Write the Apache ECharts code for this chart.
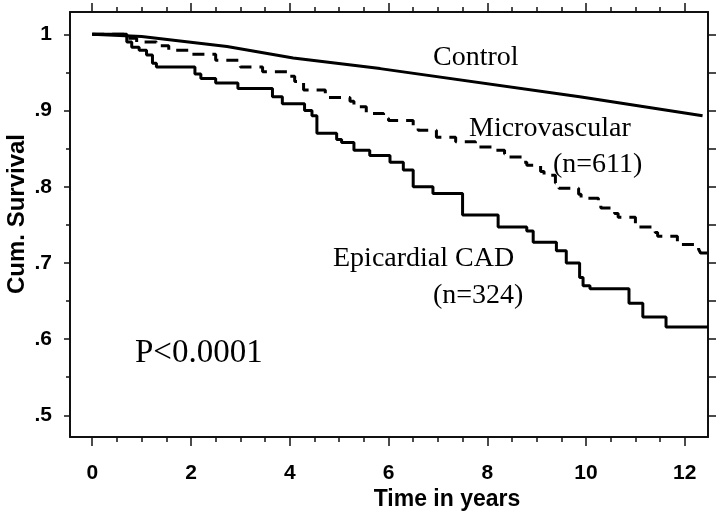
<!DOCTYPE html>
<html>
<head>
<meta charset="utf-8">
<script src="https://cdn.jsdelivr.net/npm/echarts@6/dist/echarts.min.js"></script>
<style>
html,body{margin:0;padding:0;background:#fff;}
#chart{width:722px;height:522px;}
</style>
</head>
<body>
<div id="chart"></div>
<script>
// ---- data ----
const xMajorTicks = [0, 2, 4, 6, 8, 10, 12];
const xMinorTicks = [0.5, 1, 1.5, 2.5, 3, 3.5, 4.5, 5, 5.5, 6.5, 7, 7.5, 8.5, 9, 9.5, 10.5, 11, 11.5, 12.5];
const yMajorTicks = [0.5, 0.6, 0.7, 0.8, 0.9, 1.0];
const yMinorTicks = [0.55, 0.65, 0.75, 0.85, 0.95];
const yAllTicks = [0.5, 0.55, 0.6, 0.65, 0.7, 0.75, 0.8, 0.85, 0.9, 0.95, 1.0];

const controlData = [
  [0, 1.0], [1, 0.997], [2.73, 0.984], [4.07, 0.969], [5.83, 0.955], [9.87, 0.918], [12.36, 0.893]
];
const microData = [
  [0, 1.0], [0.7, 0.995], [0.9, 0.990], [1.3, 0.985], [1.55, 0.979], [2.02, 0.974], [2.5, 0.966],
  [3.0, 0.957], [3.45, 0.951], [3.95, 0.945], [4.1, 0.938], [4.28, 0.927], [4.72, 0.917],
  [5.22, 0.912], [5.3, 0.905], [5.55, 0.896], [5.9, 0.890], [6.0, 0.887], [6.5, 0.880],
  [6.6, 0.874], [6.97, 0.865], [7.36, 0.859], [7.76, 0.852], [8.1, 0.848], [8.35, 0.843],
  [8.45, 0.839], [8.72, 0.832], [8.8, 0.828], [9.08, 0.820], [9.15, 0.815], [9.38, 0.805],
  [9.45, 0.798], [9.85, 0.790], [9.9, 0.785], [10.25, 0.776], [10.3, 0.772], [10.58, 0.765],
  [10.65, 0.760], [11.0, 0.752], [11.05, 0.747], [11.4, 0.740], [11.45, 0.735], [11.85, 0.728],
  [11.9, 0.724], [12.28, 0.718], [12.32, 0.713], [12.47, 0.710]
];
const epiData = [
  [0, 1.0], [0.7, 0.990], [0.8, 0.983], [0.95, 0.979], [1.1, 0.973], [1.22, 0.962], [1.3, 0.957],
  [2.08, 0.948], [2.2, 0.942], [2.5, 0.936], [2.95, 0.929], [3.65, 0.918], [3.85, 0.909],
  [4.3, 0.900], [4.45, 0.893], [4.55, 0.870], [4.95, 0.862], [5.05, 0.858], [5.3, 0.848],
  [5.62, 0.841], [6.03, 0.832], [6.3, 0.822], [6.5, 0.800], [6.9, 0.791], [7.5, 0.763],
  [8.22, 0.747], [8.8, 0.742], [8.93, 0.727], [9.4, 0.716], [9.6, 0.700], [9.87, 0.681],
  [9.94, 0.670], [10.08, 0.666], [10.87, 0.647], [11.15, 0.629], [11.62, 0.616], [12.47, 0.616]
];

const annotations = [
  { text: 'Control', x: 433, y: 58, size: 28 },
  { text: 'Microvascular', x: 469, y: 129, size: 28 },
  { text: '(n=611)', x: 553, y: 165, size: 28 },
  { text: 'Epicardial CAD', x: 333, y: 259, size: 28 },
  { text: '(n=324)', x: 433, y: 296, size: 28 },
  { text: 'P<0.0001', x: 135, y: 353, size: 33 }
];

const X_MIN = -0.45, X_MAX = 12.47, Y_MIN = 0.4715, Y_MAX = 1.0293;
const frameLine = { color: '#111', width: 2 };
const tickLine = { color: '#111', width: 1.5 };
const labelFont = { fontFamily: 'Liberation Sans, Arial, sans-serif', fontWeight: 'bold', fontSize: 21, color: '#000' };

function xAx(pos, showLine, ticks, len, labels) {
  return {
    type: 'value', position: pos, min: X_MIN, max: X_MAX,
    axisLine: { show: showLine, onZero: false, lineStyle: frameLine },
    axisTick: { show: true, customValues: ticks, length: len, lineStyle: tickLine },
    axisLabel: labels ? Object.assign({ show: true, customValues: labels, margin: 26 }, labelFont) : { show: false },
    splitLine: { show: false }
  };
}
function yAx(pos, showLine, ticks, len, labels) {
  return {
    type: 'value', position: pos, min: Y_MIN, max: Y_MAX,
    axisLine: { show: showLine, onZero: false, lineStyle: frameLine },
    axisTick: { show: true, customValues: ticks, length: len, lineStyle: tickLine },
    axisLabel: labels ? Object.assign({
      show: true, customValues: labels, margin: 18,
      formatter: v => (Math.abs(v - 1) < 1e-6 ? '1' : '.' + Math.round(v * 10))
    }, labelFont) : { show: false },
    splitLine: { show: false }
  };
}

const chart = echarts.init(document.getElementById('chart'), null, { renderer: 'canvas' });
chart.setOption({
  animation: false,
  backgroundColor: '#fff',
  grid: { left: 70, right: 14, top: 12, bottom: 85 },
  xAxis: [
    xAx('bottom', true, xMajorTicks, 9, xMajorTicks),
    xAx('bottom', false, xMinorTicks, 5, null),
    xAx('top', true, xMajorTicks, 9, null),
    xAx('top', false, xMinorTicks, 5, null)
  ],
  yAxis: [
    yAx('left', true, yMajorTicks, 6, yMajorTicks),
    yAx('left', false, yMinorTicks, 4, null),
    yAx('right', true, yAllTicks, 8, null)
  ],
  series: [
    { name: 'Control', type: 'line', xAxisIndex: 0, yAxisIndex: 0, data: controlData,
      showSymbol: false, symbol: 'none', lineStyle: { color: '#000', width: 3 } },
    { name: 'Microvascular', type: 'line', xAxisIndex: 0, yAxisIndex: 0, data: microData, step: 'end',
      showSymbol: false, symbol: 'none', lineStyle: { color: '#000', width: 3, type: [12, 8] } },
    { name: 'Epicardial CAD', type: 'line', xAxisIndex: 0, yAxisIndex: 0, data: epiData, step: 'end',
      showSymbol: false, symbol: 'none', lineStyle: { color: '#000', width: 3 } }
  ],
  graphic: [
    { type: 'text', x: 447, y: 500, style: { text: 'Time in years', font: 'bold 23px "Liberation Sans", Arial, sans-serif', fill: '#000', textAlign: 'center', textVerticalAlign: 'middle' } },
    { type: 'text', x: 17, y: 214, rotation: Math.PI / 2, style: { text: 'Cum. Survival', font: 'bold 24px "Liberation Sans", Arial, sans-serif', fill: '#000', textAlign: 'center', textVerticalAlign: 'middle' } }
  ].concat(annotations.map(a => ({
    type: 'text', x: a.x, y: a.y,
    style: { text: a.text, font: a.size + 'px "Liberation Serif", "Times New Roman", serif', fill: '#000', textAlign: 'left', textVerticalAlign: 'middle' }
  })))
});
</script>
</body>
</html>
